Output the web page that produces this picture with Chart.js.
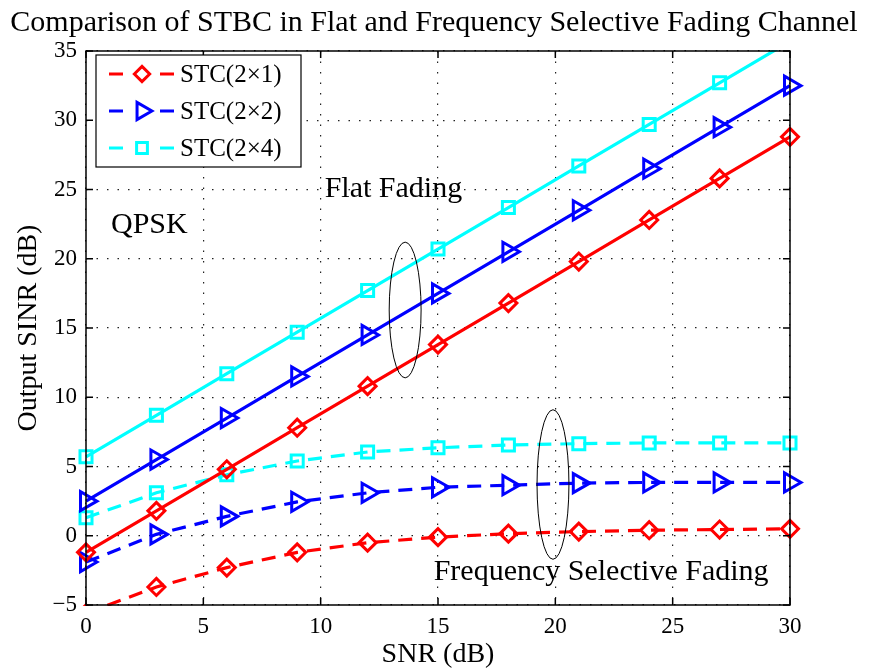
<!DOCTYPE html>
<html>
<head>
<meta charset="utf-8">
<script src="https://cdn.jsdelivr.net/npm/chart.js@4.4.1/dist/chart.umd.min.js"></script>
<style>
  html, body { margin: 0; padding: 0; background: #fff; }
  #wrap { width: 870px; height: 671px; }
</style>
</head>
<body>
<div id="wrap"><canvas id="stbcChart"></canvas></div>
<script>
// ---- data ----
const snr = [0, 3, 6, 9, 12, 15, 18, 21, 24, 27, 30];

const flat2x1 = [-1.2, 1.8, 4.8, 7.8, 10.8, 13.8, 16.8, 19.8, 22.8, 25.8, 28.8];
const flat2x2 = [2.5, 5.5, 8.5, 11.5, 14.5, 17.5, 20.5, 23.5, 26.5, 29.5, 32.5];
const flat2x4 = [5.7, 8.7, 11.7, 14.7, 17.7, 20.7, 23.7, 26.7, 29.7, 32.7, 35.7];

const fsel2x1 = [-5.6, -3.7, -2.3, -1.2, -0.5, -0.1, 0.15, 0.3, 0.4, 0.45, 0.5];
const fsel2x2 = [-1.9, 0.1, 1.4, 2.45, 3.1, 3.5, 3.65, 3.8, 3.85, 3.85, 3.85];
const fsel2x4 = [1.3, 3.1, 4.4, 5.4, 6.05, 6.35, 6.55, 6.65, 6.7, 6.7, 6.7];

const xTicks = [0, 5, 10, 15, 20, 25, 30];
const yTicks = [-5, 0, 5, 10, 15, 20, 25, 30, 35];

const legendLabels = ['STC(2\u00d71)', 'STC(2\u00d72)', 'STC(2\u00d74)'];
const seriesColors = ['#ff0000', '#0000ff', '#00ffff'];

const chartTitle = 'Comparison of STBC in Flat and Frequency Selective Fading Channel';
const SERIF = '"Liberation Serif", "Times New Roman", serif';

// marker styles per antenna config
const markerStyle = [
    { pointStyle: 'rectRot', radius: 8.5, rotation: 0 },
    { pointStyle: 'triangle', radius: 11, rotation: 90 },
    { pointStyle: 'rect', radius: 8.5, rotation: 0 }
];

function makeSet(values, idx, dashed) {
    const m = markerStyle[idx];
    return {
        data: snr.map((x, i) => ({ x: x, y: values[i] })),
        borderColor: seriesColors[idx],
        borderWidth: 3.2,
        borderDash: dashed ? [14, 9] : [],
        pointStyle: m.pointStyle,
        pointRotation: m.rotation,
        pointRadius: m.radius,
        pointBorderWidth: 3,
        pointBorderColor: seriesColors[idx],
        pointBackgroundColor: 'rgba(0,0,0,0)',
        tension: 0,
        // markers may stick out left/right like MATLAB, but top/bottom are cut
        clip: { left: false, right: false, top: 1, bottom: 1 }
    };
}

// title, frame, inward ticks, annotations and legend
const decorPlugin = {
    id: 'decor',
    afterDraw(chart) {
        const ctx = chart.ctx;
        const a = chart.chartArea;
        const xs = chart.scales.x, ys = chart.scales.y;
        ctx.save();

        // title centred on the whole figure
        ctx.fillStyle = '#000';
        ctx.font = '30px ' + SERIF;
        ctx.textAlign = 'center';
        ctx.textBaseline = 'middle';
        ctx.fillText(chartTitle, 434, 23);

        // box + inward ticks
        ctx.strokeStyle = '#000';
        ctx.lineWidth = 1.5;
        ctx.strokeRect(a.left, a.top, a.right - a.left, a.bottom - a.top);
        ctx.beginPath();
        xTicks.forEach(v => {
            const px = xs.getPixelForValue(v);
            ctx.moveTo(px, a.bottom); ctx.lineTo(px, a.bottom - 7);
            ctx.moveTo(px, a.top); ctx.lineTo(px, a.top + 7);
        });
        yTicks.forEach(v => {
            const py = ys.getPixelForValue(v);
            ctx.moveTo(a.left, py); ctx.lineTo(a.left + 7, py);
            ctx.moveTo(a.right, py); ctx.lineTo(a.right - 7, py);
        });
        ctx.stroke();

        // ellipses around the two groups
        const ell = (cx, cy, dx, dy) => {
            const px = xs.getPixelForValue(cx), py = ys.getPixelForValue(cy);
            const rx = Math.abs(xs.getPixelForValue(cx + dx) - px);
            const ry = Math.abs(ys.getPixelForValue(cy + dy) - py);
            ctx.beginPath();
            ctx.ellipse(px, py, rx, ry, 0, 0, Math.PI * 2);
            ctx.lineWidth = 1;
            ctx.stroke();
        };
        ell(13.6, 16.3, 0.68, 4.9);
        ell(19.9, 3.7, 0.68, 5.4);

        // text labels
        ctx.fillStyle = '#000';
        ctx.font = '30px ' + SERIF;
        ctx.fillText('Flat Fading', xs.getPixelForValue(13.1), ys.getPixelForValue(25.0));
        ctx.fillText('QPSK', xs.getPixelForValue(2.7), ys.getPixelForValue(22.4));
        ctx.fillText('Frequency Selective Fading', xs.getPixelForValue(21.95), ys.getPixelForValue(-2.6));

        // legend box (top-left inside the axes)
        const lx = a.left + 10, ly = a.top + 4, lw = 205, lh = 112;
        ctx.fillStyle = '#fff';
        ctx.fillRect(lx, ly, lw, lh);
        ctx.lineWidth = 1.2;
        ctx.strokeStyle = '#000';
        ctx.strokeRect(lx, ly, lw, lh);
        ctx.font = '25px ' + SERIF;
        ctx.textAlign = 'left';
        legendLabels.forEach((lab, i) => {
            const ry = ly + 19 + i * 37;
            const mx = lx + 46;
            ctx.strokeStyle = seriesColors[i];
            ctx.lineWidth = 3.2;
            ctx.beginPath();
            ctx.moveTo(lx + 13, ry); ctx.lineTo(lx + 27, ry);
            ctx.moveTo(lx + 64, ry); ctx.lineTo(lx + 78, ry);
            ctx.stroke();
            const m = markerStyle[i];
            ctx.lineWidth = 3;
            ctx.fillStyle = 'rgba(0,0,0,0)';
            Chart.helpers.drawPoint(ctx, {
                pointStyle: m.pointStyle, radius: m.radius * 0.9, rotation: m.rotation, borderWidth: 3
            }, mx, ry);
            ctx.fillStyle = '#000';
            ctx.fillText(lab, lx + 84, ry + 1);
        });
        ctx.restore();
    }
};

new Chart(document.getElementById('stbcChart'), {
    type: 'line',
    data: {
        datasets: [
            makeSet(flat2x1, 0, false),
            makeSet(flat2x2, 1, false),
            makeSet(flat2x4, 2, false),
            makeSet(fsel2x1, 0, true),
            makeSet(fsel2x2, 1, true),
            makeSet(fsel2x4, 2, true)
        ]
    },
    options: {
        responsive: true,
        maintainAspectRatio: false,
        animation: false,
        layout: { padding: { left: 0, right: 80, top: 51, bottom: 0 } },
        plugins: {
            legend: { display: false },
            tooltip: { enabled: false },
            title: { display: false }
        },
        scales: {
            x: {
                type: 'linear',
                min: 0, max: 30,
                afterBuildTicks: s => { s.ticks = xTicks.map(v => ({ value: v })); },
                afterFit: s => { s.height = 66; },
                grid: { color: '#222', lineWidth: 1.2, drawTicks: false },
                border: { display: false, dash: [1.5, 9] },
                ticks: { color: '#000', font: { family: SERIF, size: 23 }, padding: 8, maxRotation: 0 },
                title: {
                    display: true, text: 'SNR (dB)', color: '#000',
                    font: { family: SERIF, size: 28 }, padding: { top: -4, bottom: 0 }
                }
            },
            y: {
                type: 'linear',
                min: -5, max: 35,
                afterBuildTicks: s => { s.ticks = yTicks.map(v => ({ value: v })); },
                afterFit: s => { s.width = 86; },
                grid: { color: '#222', lineWidth: 1.2, drawTicks: false },
                border: { display: false, dash: [1.5, 9] },
                ticks: {
                    color: '#000', font: { family: SERIF, size: 23 }, padding: 9,
                    callback: v => String(v).replace('-', '\u2212')
                },
                title: {
                    display: true, text: 'Output SINR (dB)', color: '#000',
                    font: { family: SERIF, size: 28 }, padding: { top: 12, bottom: 0 }
                }
            }
        }
    },
    plugins: [decorPlugin]
});
</script>
</body>
</html>
